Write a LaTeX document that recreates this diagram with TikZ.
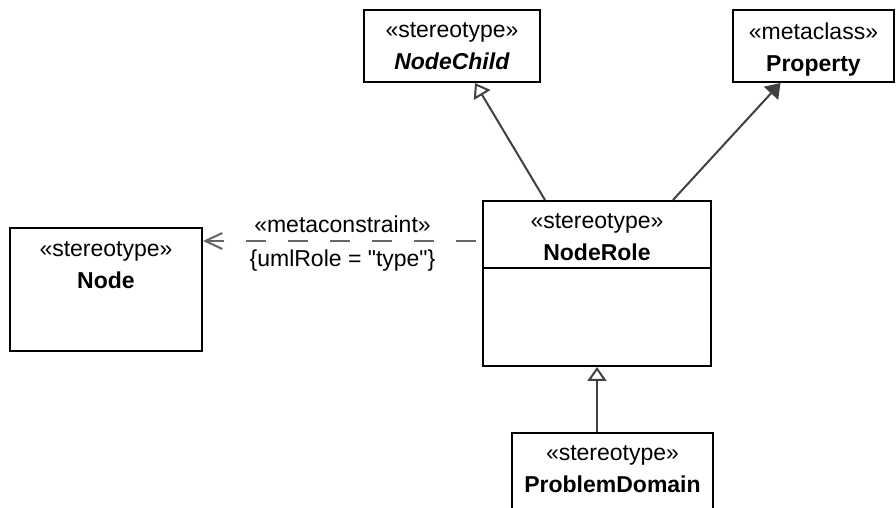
\documentclass[tikz,border=0pt]{standalone}
\usepackage{fontspec}
\setmainfont{Liberation Sans}
\usetikzlibrary{arrows.meta, positioning}

\begin{document}
\begin{tikzpicture}[x=0.5pt, y=-0.5pt,
    every node/.style={font=\fontsize{11.5}{16}\selectfont},
    umlbox/.style={draw, line width=1pt, inner sep=0pt},
    umltext/.style={anchor=north, align=center, inner sep=0pt},
    link/.style={line width=1pt, draw=black!75},
    gen/.style={link, -{Triangle[open, length=7pt, width=9.5pt]}},
    meta/.style={link, -{Triangle[length=7pt, width=9.5pt]}},
    dep/.style={line width=1pt, draw=black!60, dash pattern=on 10pt off 11pt, dash phase=18pt,
                -{Straight Barb[length=8.5pt, width=8pt]}}]
    % 画布
    \clip (0,0) rectangle (896,508);

    % 上方两个类
    \node[umlbox, minimum width=88pt, minimum height=36pt] (nodechild) at (452,46) {};
    \node[umltext] (nodechild-t) at ([yshift=-6.5pt]nodechild.north) {«stereotype»\\\textbf{\textit{NodeChild}}};
    \node[umlbox, minimum width=80.5pt, minimum height=36pt] (property) at (813.5,46) {};
    \node[umltext] (property-t) at ([yshift=-6.5pt]property.north) {«metaclass»\\\textbf{Property}};

    % 中间 NodeRole
    \node[umlbox, minimum width=114pt, minimum height=82.5pt] (noderole) at (597,283.5) {};
    \node[umltext] (noderole-t) at ([yshift=-6.5pt]noderole.north) {«stereotype»\\\textbf{NodeRole}};
    \draw[line width=1pt] ([yshift=-34pt]noderole.north west) -- ([yshift=-34pt]noderole.north east);

    % 左侧 Node
    \node[umlbox, minimum width=96pt, minimum height=61.5pt] (node) at (106,289.5) {};
    \node[umltext] (node-t) at ([yshift=-7pt]node.north) {«stereotype»\\\textbf{Node}};

    % 下方 ProblemDomain
    \node[umlbox, minimum width=100.5pt, minimum height=50pt] (problemdomain) at (612.5,483) {};
    \node[umltext] (problemdomain-t) at ([yshift=-6.5pt]problemdomain.north) {«stereotype»\\\textbf{ProblemDomain}};

    % 泛化与扩展
    \draw[gen] ([xshift=-26pt]noderole.north) -- ([xshift=11.5pt]nodechild.south);
    \draw[meta] ([xshift=38pt]noderole.north) -- ([xshift=-16.5pt]property.south);
    \draw[gen] (problemdomain.north -| noderole.south) -- (noderole.south);

    % 元约束
    \coordinate (dep-s) at ([yshift=-20.5pt]noderole.north west);
    \draw[dep] (dep-s) -- (dep-s -| node.east)
        node[pos=0.5, above=0.5pt, text=black] (mc) {«metaconstraint»}
        node[pos=0.5, below=0.5pt, text=black] (role) {\{umlRole = \textquotedbl type\textquotedbl\}};
\end{tikzpicture}
\end{document}
